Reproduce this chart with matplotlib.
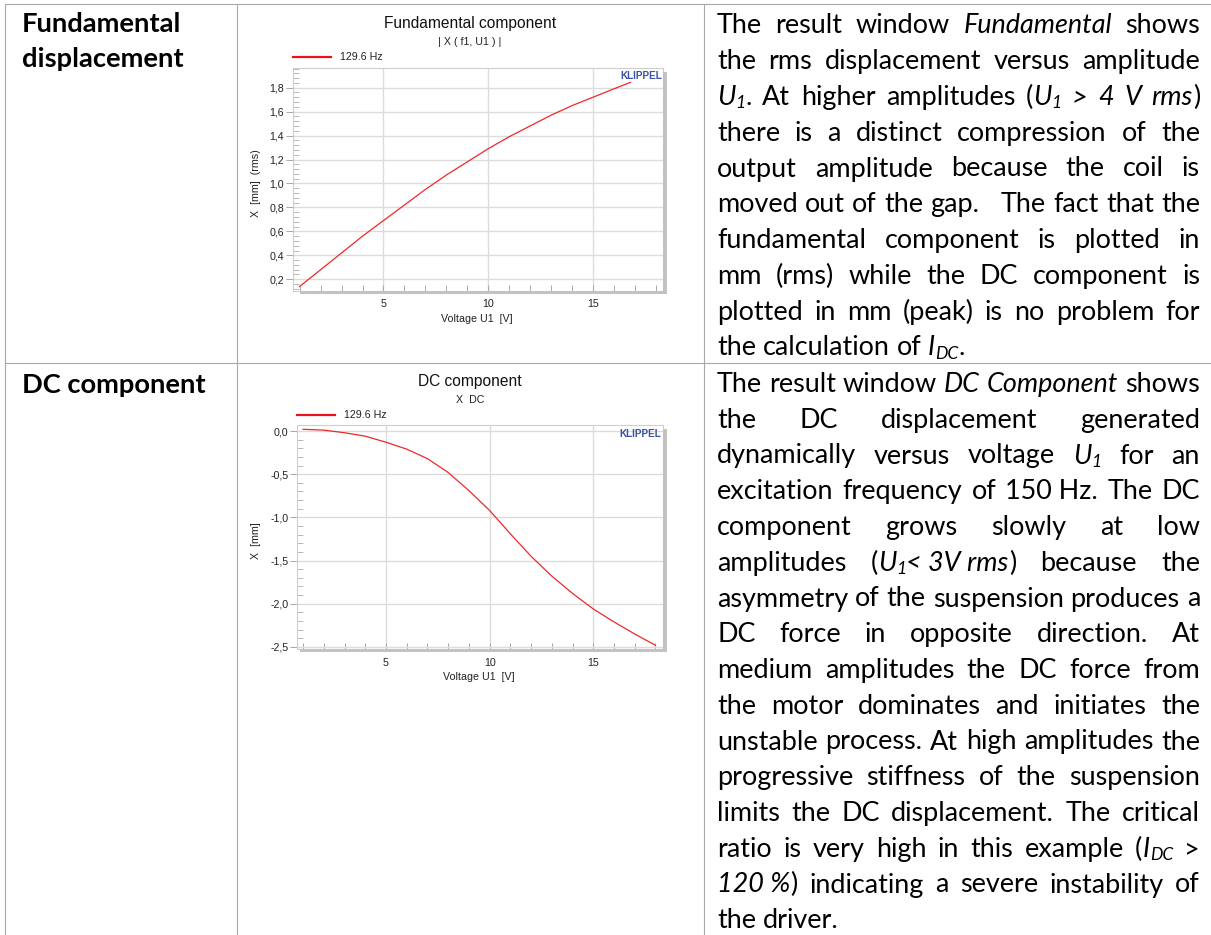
import matplotlib
matplotlib.use('Agg')
import matplotlib.pyplot as plt
from matplotlib.font_manager import FontProperties
from matplotlib.patches import Rectangle
from matplotlib.lines import Line2D
from matplotlib.ticker import MultipleLocator, FixedLocator, FuncFormatter

W, H, DPI = 1211, 935, 100

# ---------------- data ----------------
volt_fund = [1, 2, 3, 4, 5, 6, 7, 8, 9, 10, 11, 12, 13, 14, 15, 16, 16.8]
x_fund_rms = [0.14, 0.28, 0.42, 0.56, 0.69, 0.82, 0.95, 1.07, 1.18, 1.29,
              1.39, 1.48, 1.57, 1.65, 1.72, 1.79, 1.845]
volt_dc = [1, 2, 3, 4, 5, 6, 7, 8, 9, 10, 11, 12, 13, 14, 15, 16, 17, 18]
x_dc = [0.02, 0.01, -0.02, -0.06, -0.13, -0.21, -0.32, -0.48, -0.69, -0.92,
        -1.19, -1.45, -1.68, -1.88, -2.06, -2.21, -2.35, -2.48]
x_ticks = [5, 10, 15]
fund_yticks = [0.2, 0.4, 0.6, 0.8, 1.0, 1.2, 1.4, 1.6, 1.8]
dc_yticks = [0.0, -0.5, -1.0, -1.5, -2.0, -2.5]
legend_label = '129.6 Hz'

row_heads = [["Fundamental", "displacement"], ["DC component"]]

row1_text = [
    "The result window *Fundamental* shows",
    "the rms displacement versus amplitude",
    "*U*_{1}. At higher amplitudes (*U*_{1} *> 4 V rms*)",
    "there is a distinct compression of the",
    "output amplitude because the coil is",
    "moved out of the gap.   The fact that the",
    "fundamental component is plotted in",
    "mm (rms) while the DC component is",
    "plotted in mm (peak) is no problem for",
    "the calculation of *I*_{DC}.",
]
row2_text = [
    "The result window *DC Component* shows",
    "the DC displacement generated",
    "dynamically versus voltage *U*_{1} for an",
    "excitation frequency of 150\u00a0Hz. The DC",
    "component grows slowly at low",
    "amplitudes (*U*_{1}*<\u00a03V\u00a0rms*) because the",
    "asymmetry of the suspension produces a",
    "DC force in opposite direction. At",
    "medium amplitudes the DC force from",
    "the motor dominates and initiates the",
    "unstable process. At high amplitudes the",
    "progressive stiffness of the suspension",
    "limits the DC displacement. The critical",
    "ratio is very high in this example (*I*_{DC} >",
    "*120\u00a0%*) indicating a severe instability of",
    "the driver.",
]

# ---------------- figure ----------------
fig = plt.figure(figsize=(W / DPI, H / DPI), dpi=DPI)
fig.patch.set_facecolor('white')


def fx(x):
    return x / W


def fy(y):
    return 1 - y / H


# table borders
border = '#a8a8a8'
for (x0, y0, x1, y1) in [(5, 4, 1211, 4), (5, 363, 1211, 363),
                         (5, 4, 5, 935), (237, 4, 237, 935), (703.5, 4, 703.5, 935)]:
    fig.add_artist(Line2D([fx(x0), fx(x1)], [fy(y0), fy(y1)],
                          transform=fig.transFigure, color=border, lw=0.8))

renderer = fig.canvas.get_renderer()


def tw(s, fp):
    w, h, d = renderer.get_text_width_height_descent(s, fp, ismath=False)
    return w


def adv(s, fp):
    return tw('|' + s + '|', fp) - tw('||', fp)


BODY = 'Lato'


def make_fonts(sz):
    return {
        (False, False): FontProperties(family=BODY, size=sz),
        (True, False): FontProperties(family=BODY, style='italic', size=sz),
        (True, True): FontProperties(family=BODY, style='italic', size=sz * 0.65),
        (False, True): FontProperties(family=BODY, size=sz * 0.65),
    }


def parse(s):
    runs = []
    ital = False
    buf = ''
    i = 0
    while i < len(s):
        c = s[i]
        if c == '*':
            if buf:
                runs.append((buf, ital, False))
                buf = ''
            ital = not ital
            i += 1
        elif c == '_' and i + 1 < len(s) and s[i + 1] == '{':
            if buf:
                runs.append((buf, ital, False))
                buf = ''
            j = s.index('}', i)
            runs.append((s[i + 2:j], True, True))
            i = j + 1
        else:
            buf += c
            i += 1
    if buf:
        runs.append((buf, ital, False))
    words = [[]]
    for t, it, sb in runs:
        parts = t.split(' ')
        for k, p in enumerate(parts):
            if k > 0:
                words.append([])
            if p:
                words[-1].append((p, it, sb))
    return words


def word_width(word, fonts):
    return sum(adv(t, fonts[(it, sb)]) for t, it, sb in word)


X0, WIDTH = 717, 483

# auto-fit body font size so the tightest justified line fills the column
sz0 = 17.0
f0 = make_fonts(sz0)
sp0 = adv(' ', f0[(False, False)])
nat = []
for lines in (row1_text, row2_text):
    for line in lines[:-1]:
        ws = parse(line)
        wsw = [word_width(w, f0) for w in ws]
        nat.append(sum(wsw) + (len(ws) - 1) * sp0)
ratio = max(nat) / WIDTH
body_sz = min(max(sz0 / ratio, 13.0), 19.5)
fonts = make_fonts(body_sz)
space_w = adv(' ', fonts[(False, False)])
em_px = body_sz * DPI / 72.0
sub_drop = 0.13 * em_px


def draw_par(lines, y0, step):
    for k, line in enumerate(lines):
        words = parse(line)
        ws = [word_width(w, fonts) for w in words]
        n = len(words)
        if k == len(lines) - 1 or n < 2:
            gap = space_w
        else:
            gap = (WIDTH - sum(ws)) / (n - 1)
        x = X0
        y = y0 + k * step
        for w, wd in zip(words, ws):
            xx = x
            for t, it, sb in w:
                fp = fonts[(it, sb)]
                yy = y + (sub_drop if sb else 0)
                fig.text(fx(xx), fy(yy), t, fontproperties=fp, va='baseline',
                         ha='left', color='black')
                xx += adv(t, fp)
            x += wd + gap


draw_par(row1_text, 33.3, 35.8)
draw_par(row2_text, 392.0, 35.75)

# left column bold headings
fb0 = FontProperties(family=BODY, weight='bold', size=17)
bsz = 17 * 160.0 / tw('Fundamental', fb0)
fb = FontProperties(family=BODY, weight='bold', size=bsz)
for i, t in enumerate(row_heads[0]):
    fig.text(fx(22), fy(31.5 + i * 35.8), t, fontproperties=fb, va='baseline', ha='left', color='black')
fig.text(fx(22), fy(393.3), row_heads[1][0], fontproperties=fb, va='baseline', ha='left', color='black')

# ---------------- charts ----------------
CF = 'Liberation Sans'
small = 7.7


def fmt(v, p):
    s = f'{v:.1f}'
    if s == '-0.0':
        s = '0.0'
    return s.replace('.', ',')


def make_chart(box, xlim, ylim, xs, ys, yticks, yminor, title, sub, ylabel,
               title_y, sub_y, leg_x0, leg_y, klip_xy, ylab_xy, xlab_xy, shadow):
    l, t, r, b = box
    ax = fig.add_axes([fx(l), fy(b), (r - l) / W, (b - t) / H])
    ax.plot(xs, ys, color='#f02828', lw=0.9, zorder=3)
    ax.set_xlim(*xlim)
    ax.set_ylim(*ylim)
    ax.xaxis.set_major_locator(FixedLocator(x_ticks))
    ax.xaxis.set_minor_locator(MultipleLocator(1))
    ax.yaxis.set_major_locator(FixedLocator(yticks))
    ax.yaxis.set_minor_locator(MultipleLocator(yminor))
    ax.yaxis.set_major_formatter(FuncFormatter(fmt))
    ax.grid(True, which='major', color='#dcdcdc', lw=1.0, zorder=0)
    for s in ax.spines.values():
        s.set_color('#cfcfcf')
        s.set_linewidth(0.8)
    ax.tick_params(axis='x', which='both', direction='in', length=4.3, width=0.7,
                   color='#a8a8a8', pad=6.0, labelsize=small, labelcolor='#222222')
    ax.tick_params(axis='y', which='major', direction='out', length=4.8, width=0.7,
                   color='#a8a8a8', pad=1.5, labelsize=small, labelcolor='#222222')
    ax.tick_params(axis='y', which='minor', direction='in', length=4.3, width=0.7,
                   color='#b8b8b8')
    for lab in ax.get_xticklabels() + ax.get_yticklabels():
        lab.set_fontfamily(CF)
    # shadow
    for (x0, y0, x1, y1) in shadow:
        fig.add_artist(Rectangle((fx(x0), fy(y1)), (x1 - x0) / W, (y1 - y0) / H,
                                 transform=fig.transFigure, color='#c2c2c2', lw=0))
    cx = 470
    fig.text(fx(cx), fy(title_y), title, family=CF, size=11.2, ha='center', va='baseline', color='#111111')
    fig.text(fx(cx), fy(sub_y), sub, family=CF, size=small, ha='center', va='baseline', color='#222222')
    fig.add_artist(Line2D([fx(leg_x0), fx(leg_x0 + 37.5)], [fy(leg_y), fy(leg_y)],
                          transform=fig.transFigure, color='#e8141b', lw=1.6))
    fig.text(fx(leg_x0 + 47), fy(leg_y), legend_label, family=CF, size=small,
             ha='left', va='center', color='#222222')
    fig.text(fx(klip_xy[0]), fy(klip_xy[1]), 'KLIPPEL', family=CF, weight='bold', size=7.2,
             ha='right', va='center', color='#3a53a4')
    fig.text(fx(ylab_xy[0]), fy(ylab_xy[1]), ylabel, family=CF, size=small, rotation=90,
             ha='center', va='center', color='#222222')
    fig.text(fx(xlab_xy[0]), fy(xlab_xy[1]), 'Voltage U1  [V]', family=CF, size=small,
             ha='center', va='center', color='#222222')
    return ax


make_chart((293, 68.3, 663, 291), (0.68, 18.35), (0.102, 1.962), volt_fund, x_fund_rms,
           fund_yticks, 0.04, 'Fundamental component', '| X ( f1, U1 ) |', 'X  [mm]  (rms)',
           28.3, 45.0, 293, 57.3, (661.7, 76.0), (256, 183.3), (477, 319),
           [(663, 71.7, 666.7, 294.3), (300, 291, 666.7, 294.3)])

make_chart((297.3, 425.3, 663.3, 649.3), (0.72, 18.38), (-2.527, 0.066), volt_dc, x_dc,
           dc_yticks, 0.1, 'DC component', 'X  DC', 'X  [mm]',
           386.0, 402.7, 297.3, 415.3, (660.7, 433.7), (256, 540.3), (479, 677),
           [(663.3, 428.7, 666.7, 652.3), (300, 649.3, 666.7, 652.3)])

fig.savefig('out.png', dpi=DPI, facecolor='white')
